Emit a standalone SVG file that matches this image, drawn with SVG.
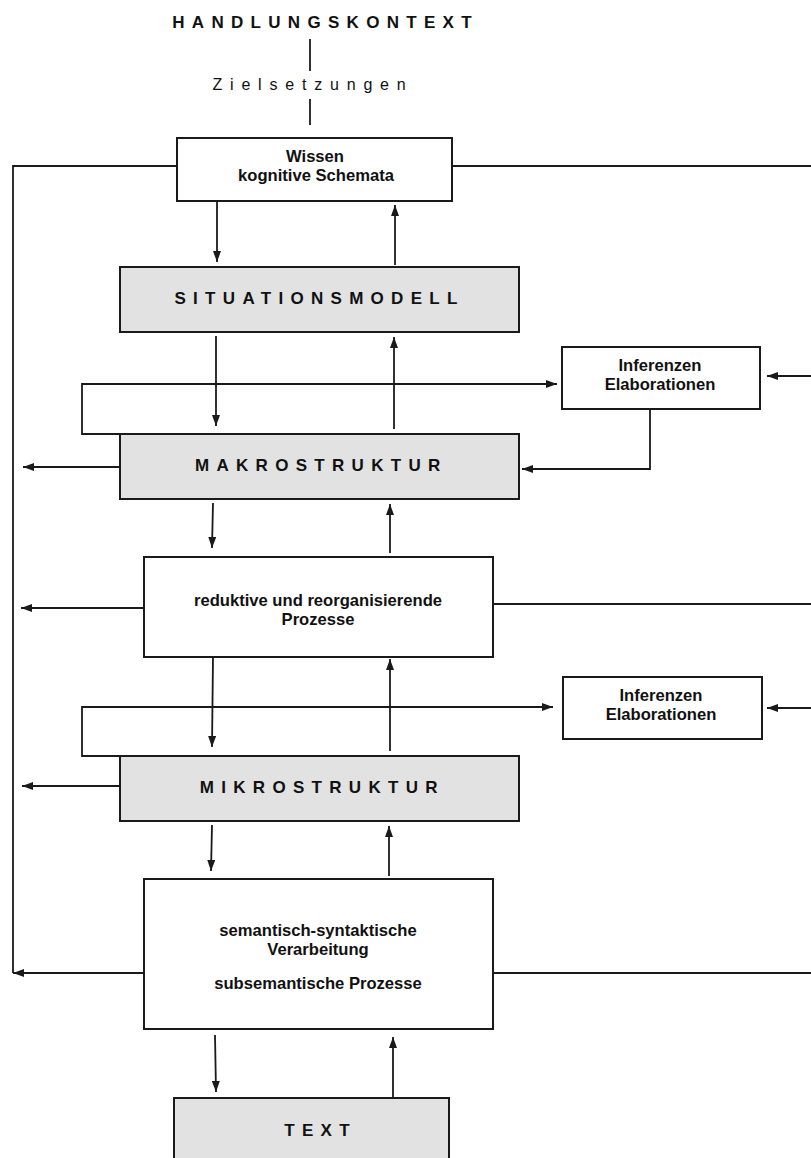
<svg xmlns="http://www.w3.org/2000/svg" width="811" height="1158" viewBox="0 0 811 1158">
<style>
.box{fill:#fff;stroke:#1a1a1a;stroke-width:2}
.gray{fill:#e2e2e2;stroke:#1a1a1a;stroke-width:2}
.t{font-family:"Liberation Sans",Arial,sans-serif;font-weight:bold;font-size:16.6px;fill:#111;text-anchor:middle}
.sp{font-family:"Liberation Sans",Arial,sans-serif;font-weight:bold;font-size:17px;fill:#111;text-anchor:middle;letter-spacing:7.3px}
.ln{fill:none;stroke:#1a1a1a;stroke-width:1.8}
.ar{fill:none;stroke:#1a1a1a;stroke-width:1.8;marker-end:url(#ah)}
</style>
<defs>
<marker id="ah" markerUnits="userSpaceOnUse" markerWidth="12" markerHeight="8" refX="11" refY="4" orient="auto">
<path d="M0,0 L11,4 L0,8 z" fill="#1a1a1a"/>
</marker>
</defs>
<rect width="811" height="1158" fill="#fff"/>

<g id="handlungskontext">
<text class="sp" x="325.6" y="28" font-size="17.5">HANDLUNGSKONTEXT</text>
</g>
<g id="zielsetzungen">
<text x="313" y="90" style="font-family:'Liberation Sans',Arial,sans-serif;font-size:16px;fill:#111;text-anchor:middle;letter-spacing:7.8px">Zielsetzungen</text>
</g>

<g id="connectors">
<line class="ln" x1="310" y1="39" x2="310" y2="71"/>
<line class="ln" x1="310" y1="99" x2="310" y2="125"/>
<polyline class="ln" points="177,166 13,166 13,973"/>
<line class="ar" x1="144" y1="973" x2="13" y2="973"/>
<line class="ln" x1="452" y1="166" x2="811" y2="166"/>
<line class="ln" x1="493" y1="604" x2="811" y2="604"/>
<line class="ln" x1="493" y1="973" x2="811" y2="973"/>
<line class="ar" x1="811" y1="376" x2="767" y2="376"/>
<line class="ar" x1="811" y1="708" x2="767" y2="708"/>
<line class="ar" x1="217" y1="201" x2="217" y2="262"/>
<line class="ar" x1="395" y1="265" x2="395" y2="205"/>
<line class="ar" x1="216" y1="336" x2="216" y2="426"/>
<line class="ar" x1="394" y1="429" x2="394" y2="337"/>
<polyline class="ar" points="120,434 82,434 82,384 557,384"/>
<polyline class="ar" points="650,409 650,469 522,469"/>
<line class="ar" x1="120" y1="467" x2="23" y2="467"/>
<line class="ar" x1="213" y1="503" x2="212" y2="548"/>
<line class="ar" x1="390" y1="553" x2="390" y2="504"/>
<line class="ar" x1="144" y1="608" x2="21" y2="608"/>
<line class="ar" x1="213" y1="657" x2="212" y2="747"/>
<line class="ar" x1="390" y1="751" x2="390" y2="659"/>
<polyline class="ar" points="120,756 82,756 82,707 553,707"/>
<line class="ar" x1="120" y1="786" x2="22" y2="786"/>
<line class="ar" x1="212" y1="825" x2="211" y2="871"/>
<line class="ar" x1="389" y1="876" x2="389" y2="826"/>
<line class="ar" x1="215" y1="1035" x2="216" y2="1092"/>
<line class="ar" x1="393" y1="1097" x2="393" y2="1037"/>
</g>

<g id="wissen">
<rect class="box" x="177" y="138" width="275" height="63"/>
<text class="t" x="315" y="162">Wissen</text>
<text class="t" x="316" y="181">kognitive Schemata</text>
</g>

<g id="situationsmodell">
<rect class="gray" x="120" y="267" width="399" height="65"/>
<text class="sp" x="319.6" y="304">SITUATIONSMODELL</text>
</g>

<g id="inferenzen1">
<rect class="box" x="562" y="347" width="198" height="62"/>
<text class="t" x="660" y="371">Inferenzen</text>
<text class="t" x="660" y="390">Elaborationen</text>
</g>

<g id="makrostruktur">
<rect class="gray" x="120" y="434" width="399" height="65"/>
<text class="sp" x="321.3" y="471">MAKROSTRUKTUR</text>
</g>

<g id="reduktive">
<rect class="box" x="144" y="557" width="349" height="100"/>
<text class="t" x="318" y="606">reduktive und reorganisierende</text>
<text class="t" x="318" y="625">Prozesse</text>
</g>

<g id="inferenzen2">
<rect class="box" x="563" y="677" width="199" height="62"/>
<text class="t" x="661" y="701">Inferenzen</text>
<text class="t" x="661" y="720">Elaborationen</text>
</g>

<g id="mikrostruktur">
<rect class="gray" x="120" y="756" width="399" height="65"/>
<text class="sp" x="322.3" y="793">MIKROSTRUKTUR</text>
</g>

<g id="semantisch">
<rect class="box" x="144" y="879" width="349" height="150"/>
<text class="t" x="318" y="936">semantisch-syntaktische</text>
<text class="t" x="318" y="955">Verarbeitung</text>
<text class="t" x="318" y="989">subsemantische Prozesse</text>
</g>

<g id="text">
<rect class="gray" x="174" y="1098" width="275" height="70"/>
<text class="sp" x="320.6" y="1136">TEXT</text>
</g>
</svg>
